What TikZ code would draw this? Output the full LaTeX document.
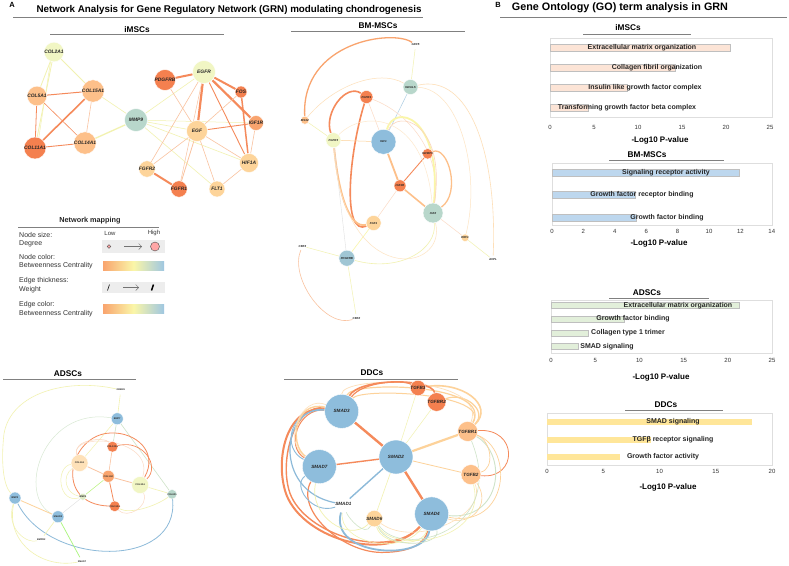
\documentclass[tikz,border=0pt]{standalone}
\usepackage{fontspec}
\setmainfont{Liberation Sans}
\usetikzlibrary{arrows.meta}
\pgfdeclarelayer{back}
\pgfdeclarelayer{bg}
\pgfsetlayers{back,bg,main}
\definecolor{oD}{HTML}{F4804F}
\definecolor{oM}{HTML}{F9A46E}
\definecolor{oL}{HTML}{FDC08A}
\definecolor{pch}{HTML}{FDD49A}
\definecolor{yL}{HTML}{F1F6C4}
\definecolor{yel}{HTML}{FAF6A8}
\definecolor{tealc}{HTML}{B8D7CB}
\definecolor{blu}{HTML}{8EBDDC}
\definecolor{bluG}{HTML}{A0C6D4}
\definecolor{grnL}{HTML}{DCE9C5}
\definecolor{eO}{HTML}{F58A5B}
\definecolor{eL}{HTML}{FAC3A0}
\definecolor{eP}{HTML}{FDD29A}
\definecolor{eY}{HTML}{F2F2B0}
\definecolor{eG}{HTML}{CFE3C8}
\definecolor{eB}{HTML}{8DBAD9}
\definecolor{barI}{HTML}{FCE4D6}
\definecolor{barB}{HTML}{BDD7EE}
\definecolor{barA}{HTML}{E2EFDA}
\definecolor{barD}{HTML}{FFE699}
\tikzset{
 gn/.style={circle,inner sep=0pt,draw=white,line width=0.4pt,font=\fontsize{4.9}{5}\selectfont\bfseries\itshape,text=black!85},
 bn/.style={gn,font=\fontsize{2.9}{3}\selectfont\bfseries\itshape},
 an/.style={gn,font=\fontsize{2.4}{2.5}\selectfont\bfseries},
 dn/.style={gn,font=\fontsize{4.6}{5}\selectfont\bfseries\itshape},
 hd/.style={font=\fontsize{8.3}{9}\selectfont\bfseries},
 hl/.style={draw=black!50,line width=0.9pt},
 lg/.style={font=\fontsize{7}{8}\selectfont,anchor=west,text=black!80,inner sep=0pt},
 bl/.style={font=\fontsize{7}{8}\selectfont\bfseries,text=black!85,inner sep=0pt},
 tk/.style={font=\fontsize{6}{7}\selectfont,text=black!80,inner sep=0pt},
 xl/.style={font=\fontsize{8}{9}\selectfont\bfseries,inner sep=0pt},
 fr/.style={draw=black!13,line width=0.6pt},
 barbox/.style={draw=black!25,line width=0.4pt},
}
\begin{document}
\begin{tikzpicture}[x=1pt,y=-1pt]
\useasboundingbox (0,0) rectangle (789,565);
\begin{pgfonlayer}{back}
\fill[white] (0,0) rectangle (789,565);
\end{pgfonlayer}
% ===== titles =====
\node[font=\fontsize{7.5}{8}\selectfont\bfseries] (labA) at (12,5) {A};
\node[font=\fontsize{9.8}{10}\selectfont\bfseries] (titA) at (229,10) {Network Analysis for Gene Regulatory Network (GRN) modulating chondrogenesis};
\draw[hl] (13,17) -- (423,17);
\node[font=\fontsize{7.5}{8}\selectfont\bfseries] (labB) at (498,5) {B};
\node[font=\fontsize{10.8}{11}\selectfont\bfseries] (titB) at (620,8) {Gene Ontology (GO) term analysis in GRN};
\draw[hl] (500,17) -- (787,17);
% ===== section headers =====
\node[hd] (hI) at (137,30) {iMSCs};
\draw[hl] (50,34) -- (224,34);
\node[hd] (hB) at (378,26) {BM-MSCs};
\draw[hl] (291,31) -- (465,31);
\node[hd] (hA) at (68,374) {ADSCs};
\draw[hl] (3,379) -- (136,379);
\node[hd] (hD) at (372,373) {DDCs};
\draw[hl] (284,379) -- (458,379);
% ===== iMSCs network =====
\node[gn,fill=yL,minimum size=17pt] (col2a1) at (54,52) {COL2A1};
\node[gn,fill=oL,minimum size=16pt] (col5a1) at (37,96) {COL5A1};
\node[gn,fill=oL,minimum size=14pt] (col15a1) at (93,91) {COL15A1};
\node[gn,fill=oD,minimum size=11pt] (col11a1) at (35,148) {COL11A1};
\node[gn,fill=oL,minimum size=14pt] (col14a1) at (85,143) {COL14A1};
\node[gn,fill=tealc,minimum size=23pt] (mmp9) at (136,120) {MMP9};
\node[gn,fill=yL,minimum size=23pt] (egfr) at (204,72) {EGFR};
\node[gn,fill=oD,minimum size=14pt] (pdgfrb) at (165,80) {PDGFRB};
\node[gn,fill=oD,minimum size=12pt] (fos) at (241,92) {FOS};
\node[gn,fill=oM,minimum size=14pt] (igf1r) at (256,123) {IGF1R};
\node[gn,fill=pch,minimum size=21pt] (egf) at (197,131) {EGF};
\node[gn,fill=pch,minimum size=19pt] (hif1a) at (249,163) {HIF1A};
\node[gn,fill=pch,minimum size=15pt] (fgfr2) at (147,169) {FGFR2};
\node[gn,fill=oD,minimum size=12pt] (fgfr1) at (179,189) {FGFR1};
\node[gn,fill=pch,minimum size=16pt] (flt1) at (217,189) {FLT1};
\begin{pgfonlayer}{bg}
\draw[eY,line width=0.8] (col2a1)--(col5a1);
\draw[eY,line width=0.8] (col2a1)--(col15a1);
\draw[eY,line width=0.8] (col2a1)--(col11a1);
\draw[eY,line width=0.5] (col2a1.250)--(col11a1.70);
\draw[eO,line width=1] (col5a1)--(col15a1);
\draw[eO,line width=0.8] (col5a1)--(col11a1);
\draw[eO,line width=0.6] (col5a1)--(col14a1);
\draw[eO,line width=1.6] (col15a1)--(col11a1);
\draw[eL,line width=0.6] (col15a1)--(col14a1);
\draw[eO,line width=0.9] (col11a1)--(col14a1);
\draw[eY,line width=0.6] (col15a1)--(mmp9);
\draw[eY,line width=1.3] (col14a1)--(mmp9);
\draw[eY,line width=0.6] (mmp9)--(egfr);
\draw[eY,line width=0.6] (mmp9)--(egf);
\draw[eY,line width=0.6] (mmp9)--(hif1a);
\draw[eY,line width=0.6] (mmp9)--(flt1);
\draw[eY,line width=0.5] (mmp9)--(igf1r);
\draw[eO,line width=2] (pdgfrb)--(egfr);
\draw[eL,line width=0.6] (pdgfrb)--(egf);
\draw[eO,line width=2.2] (egfr)--(egf);
\draw[eO,line width=2] (egfr)--(fos);
\draw[eO,line width=2.2] (egfr)--(igf1r);
\draw[eO,line width=0.9] (egfr)--(hif1a);
\draw[eL,line width=0.6] (egfr)--(fgfr2);
\draw[eO,line width=1.5] (fos)--(hif1a);
\draw[eL,line width=0.6] (fos)--(egf);
\draw[eO,line width=0.9] (igf1r)--(egf);
\draw[eL,line width=0.6] (igf1r)--(hif1a);
\draw[eL,line width=0.6] (egf)--(hif1a);
\draw[eL,line width=0.6] (egf)--(flt1);
\draw[eL,line width=0.8] (egf)--(fgfr1);
\draw[eL,line width=0.6] (egf)--(fgfr2);
\draw[eO,line width=2] (fgfr2)--(fgfr1);
\draw[eL,line width=0.6] (flt1)--(hif1a);
\draw[eL,line width=0.5] (fgfr1)--(egfr);
\end{pgfonlayer}
% ===== legend =====
\node[bl,font=\fontsize{7.3}{8}\selectfont\bfseries] (lgt) at (90,221) {Network mapping};
\draw[hl] (18,227) -- (159,227);
\node[lg] (l1) at (19,235) {Node size:};
\node[lg] (l2) at (19,244) {Degree};
\node[lg] (l3) at (19,257) {Node color:};
\node[lg] (l4) at (19,265.5) {Betweenness Centrality};
\node[lg] (l5) at (19,281) {Edge thickness:};
\node[lg] (l6) at (19,290) {Weight};
\node[lg] (l7) at (19,305) {Edge color:};
\node[lg] (l8) at (19,313.5) {Betweenness Centrality};
\node[tk] (low) at (110,233) {Low};
\node[tk] (high) at (154,233) {High};
\fill[black!7] (102,240) rectangle (165,253);
\node[circle,draw=black!70,line width=0.4pt,fill=red!35,minimum size=3.6pt,inner sep=0pt] (cs) at (109,246.5) {};
\node[circle,draw=black!70,line width=0.4pt,fill=red!35,minimum size=9pt,inner sep=0pt] (cb) at (155,246.5) {};
\draw[black!55,line width=0.4pt,-{Straight Barb[length=3pt,width=6pt]}] (124,246.5) -- (142,246.5);
\shade[left color=oM,right color=blu!85,middle color=yel] (103,261) rectangle (164,270);
\fill[black!7] (102,282) rectangle (165,293);
\draw[black,line width=0.5pt] (107.5,290.5) -- (109.5,284.5);
\draw[black!55,line width=0.4pt,-{Straight Barb[length=3pt,width=6pt]}] (123,287.5) -- (139,287.5);
\draw[black,line width=1.5pt] (151.5,290.5) -- (153.5,284.5);
\shade[left color=oM,right color=blu!85,middle color=yel] (103,304) rectangle (164,313);
% ===== BM-MSCs network (zoom frame) =====
\begin{scope}[shift={(274,13)},xscale=0.3,yscale=0.4]
\node[bn] (gdf5) at (472,80) {GDF5};
\node[bn,fill=tealc,minimum size=15pt] (jag) at (455,185) {IGFALS};
\node[bn,fill=oD,minimum size=13pt] (bfgfr1) at (308,210) {FGFR1};
\node[bn,fill=oL,minimum size=7pt] (msx2) at (103,268) {MSX2};
\node[bn,fill=yL,minimum size=15pt] (bfgfr3) at (198,318) {FGFR3};
\node[bn,fill=blu,minimum size=25pt] (igf1) at (365,322) {IGF1};
\node[bn,fill=oD,minimum size=7pt] (igfbp3) at (512,352) {IGFBP3};
\node[bn,fill=oD,minimum size=12pt] (bigf1r) at (420,432) {IGF1R};
\node[bn,fill=pch,minimum size=15pt] (fgf1) at (332,525) {FGF1};
\node[bn,fill=tealc,minimum size=20pt] (igf2) at (530,500) {IGF2};
\node[bn,fill=pch,minimum size=7pt] (erf1) at (637,562) {ERF1};
\node[bn] (axpl) at (730,617) {AXPL};
\node[bn] (cbf3) at (95,583) {CBF3};
\node[bn,fill=bluG,minimum size=16pt] (bpdgfrb) at (243,613) {PDGFRB};
\node[bn] (cbf2) at (275,763) {CBF2};
\begin{pgfonlayer}{bg}
\draw[oM,line width=1.3] (msx2) .. controls (90,70) and (400,40) .. (gdf5);
\draw[eY,line width=0.5] (msx2) -- (bfgfr3);
\draw[eP!70,line width=0.5] (msx2) .. controls (200,180) and (350,140) .. (jag);
\draw[eY,line width=0.5] (gdf5) -- (jag);
\draw[eB!70,line width=0.5] (jag) -- (igf1);
\draw[eP!70,line width=0.6] (jag) .. controls (650,150) and (745,350) .. (axpl);
\draw[eP!60,line width=0.5] (jag) .. controls (620,190) and (690,400) .. (erf1);
\draw[eO,line width=1.6] (bfgfr1) .. controls (240,175) and (165,250) .. (bfgfr3);
\draw[eO,line width=1.6] (bfgfr1) .. controls (250,350) and (225,560) .. (fgf1);
\draw[oL,line width=1.8] (bfgfr3) .. controls (215,450) and (250,540) .. (fgf1);
\draw[eP,line width=0.5] (bfgfr3) -- (igf1);
\draw[eL!60,line width=0.5] (bfgfr1) -- (igf1);
\draw[eL!60,line width=0.5] (bfgfr1) .. controls (450,250) and (560,350) .. (igf2);
\draw[yel,line width=1.8] (igf1) .. controls (400,225) and (560,255) .. (igf2);
\draw[eL!70,line width=0.6] (igf1) .. controls (410,240) and (575,270) .. (igf2);
\draw[oL,line width=1.8] (igf1) -- (bigf1r);
\draw[eO,line width=0.9] (bigf1r) -- (igfbp3);
\draw[oL,line width=1.3] (igfbp3) .. controls (580,330) and (625,450) .. (igf2);
\draw[oL,line width=1.6] (bigf1r) -- (igf2);
\draw[eL!60,line width=0.5] (bigf1r) -- (fgf1);
\draw[eL!60,line width=0.5] (igf2) -- (erf1);
\draw[eY,line width=0.5] (erf1) -- (axpl);
\draw[yel,line width=0.6] (fgf1) -- (bpdgfrb);
\draw[eY,line width=0.5] (bpdgfrb) -- (cbf3);
\draw[eY,line width=0.5] (bpdgfrb) -- (cbf2);
\draw[black!12,line width=0.4] (bpdgfrb) -- (bfgfr3);
\draw[eL,line width=0.6] (cbf3) .. controls (50,660) and (170,790) .. (cbf2);
\draw[eY,line width=0.6] (bpdgfrb) .. controls (420,650) and (545,590) .. (igf2);
\draw[eP!60,line width=0.5] (bfgfr3) .. controls (230,690) and (580,650) .. (igf2);
\draw[eP!50,line width=0.5] (bfgfr3) .. controls (300,240) and (500,250) .. (igf2);
\end{pgfonlayer}
\end{scope}
% ===== ADSCs network (zoom frame) =====
\begin{scope}[shift={(-0.235,421.75)},xscale=0.277,yscale=0.25]
\node[an] (grem1) at (437,-127) {GREM1};
\node[an,fill=blu,minimum size=12pt] (bmp7) at (424,-12) {BMP7};
\node[an,fill=oD,minimum size=8pt] (col12a1) at (407,100) {COL12A1};
\node[an,fill=pch!70,minimum size=17pt] (col1a1) at (288,165) {COL1A1};
\node[an,fill=oM,minimum size=12pt] (col1a2) at (392,218) {COL1A2};
\node[an,fill=yL,minimum size=17pt] (col3a1) at (507,253) {COL3A1};
\node[an,fill=tealc,minimum size=8pt] (acol2a1) at (622,290) {COL2A1};
\node[an,fill=grnL,minimum size=7pt] (bmp4) at (300,300) {BMP4};
\node[an,fill=oD,minimum size=8pt] (acol11a1) at (415,338) {COL11A1};
\node[an,fill=blu,minimum size=12pt] (bmp2) at (55,305) {BMP2};
\node[an,fill=blu,minimum size=12pt] (smad3a) at (210,380) {SMAD3};
\node[an] (bmpr2) at (150,470) {BMPR2};
\node[an] (smad7a) at (297,558) {SMAD7};
\begin{pgfonlayer}{bg}
\draw[eY,line width=0.6] (grem1) -- (bmp7);
\draw[eY,line width=0.6] (grem1) .. controls (250,-175) and (40,-120) .. (15,50) .. controls (5,150) and (10,250) .. (bmp2);
\draw[eG!80,line width=0.5] (bmp7) .. controls (150,-60) and (60,300) .. (smad3a);
\draw[eG,line width=0.6] (bmp7) -- (col12a1);
\draw[eG,line width=0.6] (bmp7) -- (acol2a1);
\draw[eY,line width=0.5] (bmp7) -- (col1a1);
\draw[eO,line width=0.8] (col3a1) .. controls (575,120) and (490,40) .. (400,45) .. controls (250,50) and (190,330) .. (acol11a1);
\draw[eO,line width=0.7] (col12a1) .. controls (520,70) and (580,180) .. (col3a1);
\draw[eL!70,line width=0.5] (col1a1) .. controls (260,70) and (380,60) .. (col12a1);
\draw[eL!60,line width=0.5] (col1a1) .. controls (250,40) and (560,60) .. (col3a1);
\draw[eY,line width=0.5] (col1a1) .. controls (220,220) and (240,290) .. (bmp4);
\draw[eY,line width=0.5] (col1a1) .. controls (200,180) and (210,330) .. (bmp4);
\draw[eL,line width=0.6] (col1a2) -- (col12a1);
\draw[eL,line width=0.8] (col1a2) -- (col1a1);
\draw[eL,line width=0.8] (col1a2) -- (col3a1);
\draw[eY!80!green,line width=0.6] (col1a2) -- (bmp4);
\draw[eO,line width=0.8] (col1a2) -- (acol11a1);
\draw[eY,line width=0.6] (col3a1) -- (acol2a1);
\draw[eY,line width=0.6] (acol2a1) .. controls (560,340) and (470,370) .. (acol11a1);
\draw[eL!60,line width=0.5] (col3a1) .. controls (540,340) and (460,390) .. (acol11a1);
\draw[eB,line width=0.8] (acol2a1) .. controls (650,590) and (180,580) .. (bmp2);
\draw[eP,line width=0.8] (bmp2) -- (smad3a);
\draw[black!12,line width=0.4] (bmp4) -- (smad3a);
\draw[eY,line width=0.6] (smad3a) -- (bmpr2);
\draw[eY!70!green,line width=0.7] (smad3a) -- (smad7a);
\draw[eY,line width=0.6] (bmp2) .. controls (20,480) and (150,590) .. (smad7a);
\draw[eY,line width=0.5] (bmp2) .. controls (20,430) and (100,490) .. (bmpr2);
\end{pgfonlayer}
\end{scope}
% ===== DDCs network (zoom frame) =====
\begin{scope}[shift={(275,399.8)},xscale=0.3333,yscale=0.275]
\node[dn,fill=blu,minimum size=34pt] (smad3) at (200,42) {SMAD3};
\node[dn,fill=oD,minimum size=12pt] (tgfb3) at (429,-43) {TGFB3};
\node[dn,fill=oD,minimum size=12pt] (tgfbr2) at (485,8) {TGFBR2};
\node[dn,fill=oL,minimum size=20pt] (tgfbr1) at (578,115) {TGFBR1};
\node[dn,fill=blu,minimum size=34pt] (smad2) at (363,208) {SMAD2};
\node[dn,fill=blu,minimum size=34pt] (smad7) at (133,243) {SMAD7};
\node[dn,fill=oL,minimum size=20pt] (tgfb2) at (588,272) {TGFB2};
\node[dn] (smad1) at (205,380) {SMAD1};
\node[dn,fill=pch,minimum size=12pt] (smad6) at (298,432) {SMAD6};
\node[dn,fill=blu,minimum size=34pt] (smad4) at (470,415) {SMAD4};
\begin{pgfonlayer}{bg}
\draw[eO,line width=2.4] (smad2) -- (smad3);
\draw[eO,line width=1.4] (smad2) -- (smad7);
\draw[eO,line width=2.4] (smad2) -- (smad4);
\draw[eP,line width=2.2] (smad2) -- (tgfbr1);
\draw[eP,line width=0.8] (smad2) -- (tgfb2);
\draw[eY,line width=0.5] (smad2) -- (tgfbr2);
\draw[eY,line width=0.5] (smad2) -- (tgfb3);
\draw[eB,line width=1.4] (smad2) -- (smad1);
\draw[eY,line width=0.6] (smad2) -- (smad6);
% top
\draw[eP,line width=1.6] (tgfbr1) .. controls (660,20) and (560,-70) .. (tgfb3);
\draw[eP,line width=1.2] (tgfbr1) .. controls (640,40) and (570,-30) .. (tgfbr2);
\draw[eP!70,line width=0.7] (smad3) .. controls (200,-90) and (640,-90) .. (tgfbr1);
\draw[eP,line width=1.2] (smad3) .. controls (230,-70) and (660,-60) .. (tgfbr1);
\draw[eP,line width=1] (smad3) .. controls (260,-45) and (650,-25) .. (tgfbr1);
\draw[eO,line width=1.2] (tgfb3) .. controls (380,-75) and (260,-65) .. (smad3);
\draw[eO,line width=1.6] (tgfbr2) .. controls (470,-80) and (250,-80) .. (smad3);
% left orange
\draw[eO,line width=2] (smad3) .. controls (40,20) and (0,200) .. (30,330) .. controls (70,500) and (330,600) .. (smad4);
\draw[eO,line width=1.4] (smad3) .. controls (60,10) and (10,220) .. (45,340) .. controls (90,490) and (340,585) .. (smad4);
\draw[eO,line width=1.2] (smad7) .. controls (60,400) and (200,555) .. (320,555) .. controls (410,555) and (450,520) .. (smad4);
\draw[eO,line width=1] (smad3) .. controls (70,30) and (30,170) .. (smad7);
% blue
\draw[eB,line width=1.2] (smad3) .. controls (20,20) and (-10,330) .. (smad1);
\draw[eB,line width=0.9] (smad7) .. controls (50,310) and (110,420) .. (smad1);
\draw[eB,line width=1.8] (smad1) .. controls (160,570) and (450,590) .. (smad4);
\draw[eB,line width=0.9] (smad3) .. controls (40,30) and (20,180) .. (smad7);
% peach / yellow left
\draw[eP,line width=1.4] (smad3) .. controls (60,0) and (40,160) .. (smad7);
\draw[eP!70,line width=0.6] (smad3) .. controls (80,-20) and (20,150) .. (smad7);
\draw[eY,line width=0.7] (smad7) .. controls (100,420) and (220,520) .. (smad6);
% right
\draw[eO,line width=0.8] (tgfbr1) .. controls (730,100) and (730,290) .. (tgfb2);
\draw[eG,line width=0.9] (tgfbr1) .. controls (700,200) and (680,440) .. (smad4);
\draw[eP,line width=0.7] (tgfbr1) .. controls (720,180) and (700,470) .. (smad4);
\draw[eP,line width=0.7] (tgfbr1) .. controls (650,150) and (660,250) .. (tgfb2);
\draw[eP,line width=0.6] (tgfb2) .. controls (650,380) and (590,460) .. (smad4);
\draw[eP!70,line width=0.6] (tgfb2) .. controls (640,420) and (420,540) .. (smad6);
% bottom fan
\draw[eY,line width=0.7] (smad6) .. controls (320,530) and (440,540) .. (smad4);
\draw[eG,line width=0.7] (smad6) .. controls (340,550) and (500,530) .. (smad4);
\draw[eG,line width=0.6] (smad6) .. controls (270,500) and (220,430) .. (smad1);
\draw[eY,line width=0.6] (smad6) .. controls (350,560) and (640,520) .. (tgfb2);
\draw[eG,line width=0.6] (smad6) .. controls (380,580) and (700,480) .. (tgfbr1);
\draw[eY,line width=0.6] (smad1) .. controls (190,520) and (380,570) .. (smad4);
\end{pgfonlayer}
\end{scope}
% ===== GO charts =====
% iMSCs
\node[hd] (gI) at (628,28) {iMSCs};
\draw[hl] (583,34) -- (691,34);
\draw[fr] (550,38) rectangle (772,117);
\draw[barbox,fill=barI] (550,44.5) rectangle (730,51.5);
\draw[barbox,fill=barI] (550,64.5) rectangle (675,71.5);
\draw[barbox,fill=barI] (550,84.5) rectangle (627,91.5);
\draw[barbox,fill=barI] (550,104.5) rectangle (588,111.5);
\node[bl] (bI1) at (642,48) {Extracellular matrix organization};
\node[bl] (bI2) at (657,68) {Collagen fibril organization};
\node[bl] (bI3) at (645,88) {Insulin like growth factor complex};
\node[bl] (bI4) at (627,108) {Transforming growth factor beta complex};
\foreach \v [count=\i from 0] in {0,5,10,15,20,25} {\node[tk] at (550+\i*44,127) {\v};}
\node[xl] (xI) at (660,140) {-Log10 P-value};
% BM-MSCs
\node[hd] (gB) at (647,155) {BM-MSCs};
\draw[hl] (609,160.5) -- (724,160.5);
\draw[fr] (552,163) rectangle (772,225);
\draw[barbox,fill=barB] (552,169) rectangle (739,176);
\draw[barbox,fill=barB] (552,191.5) rectangle (635,198.5);
\draw[barbox,fill=barB] (552,214) rectangle (636,221);
\node[bl] (bB1) at (666,172.5) {Signaling receptor activity};
\node[bl] (bB2) at (642,195) {Growth factor receptor binding};
\node[bl] (bB3) at (667,217.5) {Growth factor binding};
\foreach \v [count=\i from 0] in {0,2,4,6,8,10,12,14} {\node[tk] at (552+\i*31.4,231) {\v};}
\node[xl] (xB) at (659,243) {-Log10 P-value};
% ADSCs
\node[hd] (gA) at (647,293) {ADSCs};
\draw[hl] (609,298) -- (709,298);
\draw[fr] (551,300) rectangle (772,353);
\draw[barbox,fill=barA] (551,302.5) rectangle (739,308.5);
\draw[barbox,fill=barA] (551,316) rectangle (624,322);
\draw[barbox,fill=barA] (551,330) rectangle (588,336);
\draw[barbox,fill=barA] (551,343.5) rectangle (578,349.5);
\node[bl] (bA1) at (678,305.5) {Extracellular matrix organization};
\node[bl] (bA2) at (633,319) {Growth factor binding};
\node[bl] (bA3) at (628,333) {Collagen type 1 trimer};
\node[bl] (bA4) at (607,346.5) {SMAD signaling};
\foreach \v [count=\i from 0] in {0,5,10,15,20,25} {\node[tk] at (551+\i*44.2,360) {\v};}
\node[xl] (xA) at (661,377) {-Log10 P-value};
% DDCs
\node[hd] (gD) at (666,405) {DDCs};
\draw[hl] (625,410.5) -- (723,410.5);
\draw[fr] (547,413.5) rectangle (772,465);
\fill[barD] (547,419) rectangle (752,425);
\fill[barD] (547,436.5) rectangle (651,442.5);
\fill[barD] (547,453.5) rectangle (620,459.5);
\node[bl] (bD1) at (673,422) {SMAD signaling};
\node[bl] (bD2) at (673,439.5) {TGFβ receptor signaling};
\node[bl] (bD3) at (663,456.5) {Growth factor activity};
\foreach \v [count=\i from 0] in {0,5,10,15,20} {\node[tk] at (547+\i*56.25,471) {\v};}
\node[xl] (xD) at (668,487) {-Log10 P-value};
\end{tikzpicture}
\end{document}
